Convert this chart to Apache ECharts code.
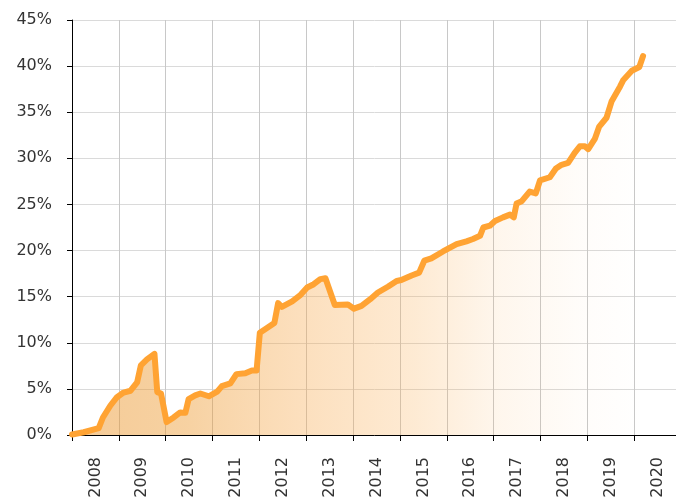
<!DOCTYPE html>
<html>
<head>
<meta charset="utf-8">
<title>chart</title>
<script src="https://cdn.jsdelivr.net/npm/echarts@6/dist/echarts.min.js"></script>
<style>
  html, body { margin: 0; padding: 0; background: #fff; }
  #main { width: 676px; height: 502px; }
</style>
</head>
<body>
<div id="main"></div>
<script type="text/javascript">
// year labels (one band per year)
var yearLabels = ['2008', '2009', '2010', '2011', '2012', '2013', '2014',
                  '2015', '2016', '2017', '2018', '2019', '2020'];

// time (decimal year) and value (%)
var times = [
  2008.00, 2008.25, 2008.57, 2008.66, 2008.82, 2008.96, 2009.10, 2009.25,
  2009.39, 2009.47, 2009.60, 2009.76, 2009.82, 2009.90, 2010.02, 2010.17,
  2010.31, 2010.42, 2010.49, 2010.63, 2010.74, 2010.92, 2011.10, 2011.20,
  2011.38, 2011.51, 2011.70, 2011.84, 2011.94, 2012.01, 2012.13, 2012.32,
  2012.40, 2012.48, 2012.70, 2012.88, 2013.02, 2013.16, 2013.30, 2013.41,
  2013.61, 2013.89, 2014.02, 2014.18, 2014.36, 2014.53, 2014.75, 2014.93,
  2015.03, 2015.25, 2015.41, 2015.52, 2015.67, 2015.92, 2016.21, 2016.42,
  2016.56, 2016.71, 2016.78, 2016.92, 2017.03, 2017.20, 2017.35, 2017.43,
  2017.49, 2017.60, 2017.77, 2017.90, 2017.99, 2018.20, 2018.33, 2018.45,
  2018.59, 2018.73, 2018.84, 2018.95, 2019.02, 2019.16, 2019.25, 2019.41,
  2019.52, 2019.70, 2019.77, 2019.95, 2020.11, 2020.19
];
var values = [
  0.05, 0.3, 0.74, 1.9, 3.2, 4.1, 4.6, 4.8,
  5.7, 7.55, 8.2, 8.8, 4.65, 4.5, 1.4, 1.9,
  2.45, 2.4, 3.9, 4.3, 4.5, 4.2, 4.7, 5.3,
  5.6, 6.6, 6.7, 7.0, 7.0, 11.1, 11.5, 12.15,
  14.3, 13.9, 14.5, 15.2, 16.0, 16.35, 16.9, 17.0,
  14.1, 14.15, 13.7, 14.0, 14.7, 15.45, 16.1, 16.7,
  16.8, 17.3, 17.6, 18.9, 19.15, 19.9, 20.7, 21.0,
  21.25, 21.6, 22.5, 22.7, 23.2, 23.6, 23.9, 23.6,
  25.1, 25.35, 26.4, 26.2, 27.6, 27.95, 28.9, 29.3,
  29.5, 30.6, 31.3, 31.3, 31.0, 32.1, 33.4, 34.4,
  36.2, 37.8, 38.5, 39.5, 39.9, 41.1
];

var seriesData = times.map(function (t, i) { return [t, values[i]]; });

var myChart = echarts.init(document.getElementById('main'));
var option = {
  animation: false,
  backgroundColor: '#ffffff',
  textStyle: { fontFamily: 'DejaVu Sans' },
  grid: { left: 72, top: 20, right: -5, bottom: 67, containLabel: false, outerBoundsMode: 'none' },
  xAxis: [
    {
      type: 'category',
      data: yearLabels,
      boundaryGap: true,
      position: 'bottom',
      axisLine: { show: true, lineStyle: { color: '#000', width: 1 } },
      axisTick: { show: true, length: 6, interval: 0, lineStyle: { color: '#000' } },
      axisLabel: { rotate: 90, margin: 22, fontSize: 16, color: '#333', interval: 0, fontFamily: 'DejaVu Sans' },
      splitLine: { show: true, interval: 0, lineStyle: { color: '#c8c8c8', width: 1 } }
    },
    {
      type: 'value',
      min: 2008,
      max: 2021,
      show: false,
      position: 'bottom',
      splitLine: { show: false }
    }
  ],
  yAxis: {
    type: 'value',
    min: 0,
    max: 45,
    interval: 5,
    axisLine: { show: true, lineStyle: { color: '#000', width: 1 } },
    axisTick: { show: true, length: 5, lineStyle: { color: '#000' } },
    axisLabel: { formatter: '{value}%', margin: 20, fontSize: 16, color: '#333', fontFamily: 'DejaVu Sans' },
    splitLine: { show: true, lineStyle: { color: '#dadada', width: 1 } }
  },
  series: [
    {
      type: 'line',
      xAxisIndex: 1,
      data: seriesData,
      showSymbol: false,
      symbol: 'none',
      lineStyle: { color: '#ffa333', width: 6, join: 'round', cap: 'round' },
      areaStyle: {
        color: new echarts.graphic.LinearGradient(0, 0, 1, 0, [
          { offset: 0, color: 'rgba(234,145,35,0.68)' },
          { offset: 0.2, color: 'rgba(236,150,40,0.62)' },
          { offset: 0.4, color: 'rgba(247,168,75,0.52)' },
          { offset: 0.6, color: 'rgba(250,175,85,0.37)' },
          { offset: 0.75, color: 'rgba(250,175,85,0.15)' },
          { offset: 0.9, color: 'rgba(250,175,85,0.04)' },
          { offset: 1, color: 'rgba(250,175,85,0)' }
        ])
      },
      z: 3
    }
  ]
};
myChart.setOption(option);
</script>
</body>
</html>
